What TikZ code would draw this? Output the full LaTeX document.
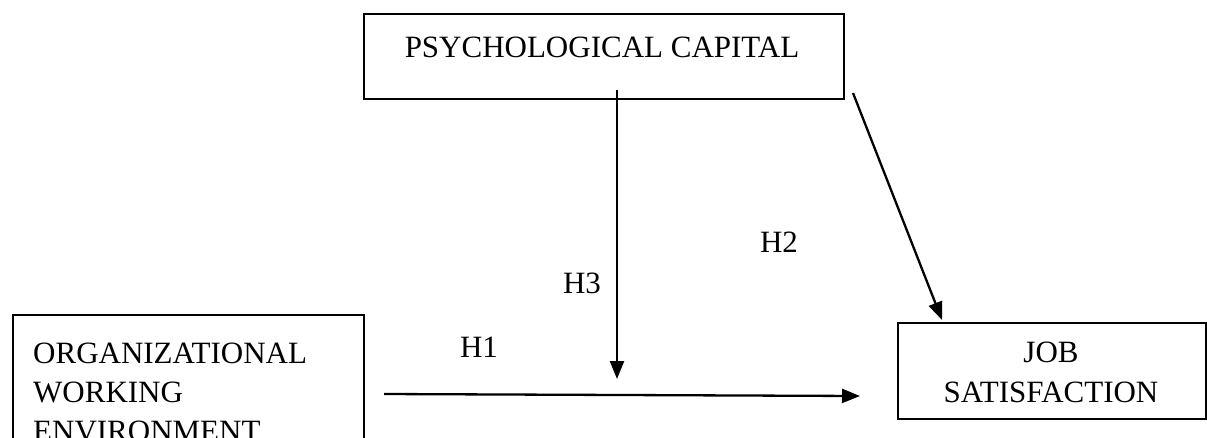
\documentclass[tikz,border=0pt]{standalone}
\usepackage{fontspec}
\setmainfont{Liberation Serif}
\usetikzlibrary{arrows.meta}
\begin{document}
\begin{tikzpicture}[x=1pt,y=-1pt,
  box/.style={draw, line width=2.3pt, inner sep=0pt},
  lbl/.style={font=\fontsize{31}{39}\selectfont, inner sep=0pt, anchor=base},
  arr/.style={-{Triangle[length=18pt,width=14pt]}, line width=2.3pt}]
\useasboundingbox (0,0) rectangle (1207,437);
\clip (0,0) rectangle (1207,437);
% boxes
\node[box, minimum width=480pt, minimum height=85pt, anchor=north west] (pc) at (363,13) {};
\node[box, minimum width=308pt, minimum height=96pt, anchor=north west] (js) at (897,322) {};
\node[box, minimum width=351pt, minimum height=160pt, anchor=north west] (ow) at (12,314) {};
% texts
\node[lbl] (pct) at (602,57) {PSYCHOLOGICAL CAPITAL};
\node[lbl] (jst1) at (1051,362) {JOB};
\node[lbl] (jst2) at (1051,402) {SATISFACTION};
\node[lbl, anchor=base west] (owt1) at (33,363) {ORGANIZATIONAL};
\node[lbl, anchor=base west] (owt2) at (33,402) {WORKING};
\node[lbl, anchor=base west] (owt3) at (33,441) {ENVIRONMENT};
\node[lbl] (h1) at (479,357) {H1};
\node[lbl] (h2) at (779,252) {H2};
\node[lbl] (h3) at (582,293) {H3};
% connectors
\coordinate (a1s) at (384,394);
\coordinate (a1e) at (860,396);
\draw[arr] (a1s) -- (a1e);
\coordinate (a3s) at (617,90);
\coordinate (a3e) at (617,379);
\draw[arr] (a3s) -- (a3e);
\coordinate (a2s) at (853,93);
\coordinate (a2e) at (942,320);
\draw[arr] (a2s) -- (a2e);
\end{tikzpicture}
\end{document}
